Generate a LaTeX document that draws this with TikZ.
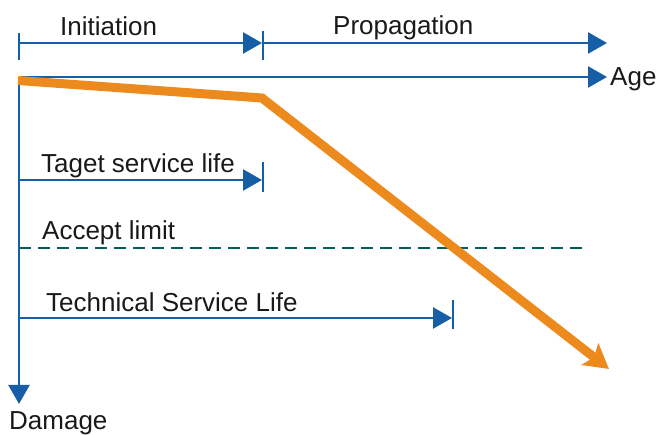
\documentclass[tikz,border=0pt]{standalone}
\usepackage{fontspec}
\setmainfont{Liberation Sans}
\usetikzlibrary{arrows.meta}
\definecolor{axisblue}{RGB}{22,94,166}
\definecolor{damageorange}{RGB}{236,138,30}
\definecolor{limitgreen}{RGB}{0,96,88}

\begin{document}
\begin{tikzpicture}[x=1pt,y=-1pt,font=\fontsize{26}{30}\selectfont,
  axis/.style={axisblue,line width=2.4pt,-{Triangle[length=19pt,width=21pt]}},
  tick/.style={axisblue,line width=2.4pt},
  lbl/.style={inner sep=0pt,anchor=base west,text=black!90}]
\useasboundingbox (0,0) rectangle (662,435);

\coordinate (o) at (19,77);
\coordinate (i1) at (19,43);
\coordinate (i2) at (262,43);
\coordinate (p2) at (607,43);
\coordinate (a2) at (607,77);
\coordinate (d2) at (19,404);

% phases
\draw[tick] (19,33) -- (19,60);
\draw[tick] (263,31) -- (263,60);
\draw[axis] (i1) -- (i2);
\draw[axis] (263,43) -- (p2);
\node[lbl] (init) at (60,36) {Initiation};
\node[lbl] (prop) at (333,35) {Propagation};

% axes
\draw[axis] (o) -- (a2);
\draw[axis] (o) -- (d2);
\node[lbl] (age) at (610,86) {Age};
\node[lbl] (dmg) at (9,430) {Damage};

% service lives
\coordinate (t1) at (19,180);
\coordinate (t2) at (262,180);
\draw[tick] (263,162) -- (263,192);
\draw[axis] (t1) -- (t2);
\node[lbl] (target) at (41,173) {Taget service life};

\coordinate (s1) at (19,318);
\coordinate (s2) at (452,318);
\draw[tick] (453,300) -- (453,329);
\draw[axis] (s1) -- (s2);
\node[lbl] (techn) at (46,312) {Technical Service Life};

% limit
\coordinate (l1) at (19,248);
\coordinate (l2) at (586,248);
\draw[limitgreen,line width=2.4pt,dash pattern=on 12pt off 7pt] (l1) -- (l2);
\node[lbl] (accept) at (42,240) {Accept limit};

% damage curve
\coordinate (c1) at (18,80.5);
\coordinate (c2) at (262,98);
\coordinate (c3) at (609,369);
\draw[damageorange,line width=9pt,-{Stealth[length=24pt,width=27pt,inset=5pt]}] (c1) -- (c2) -- (c3);

\end{tikzpicture}
\end{document}
